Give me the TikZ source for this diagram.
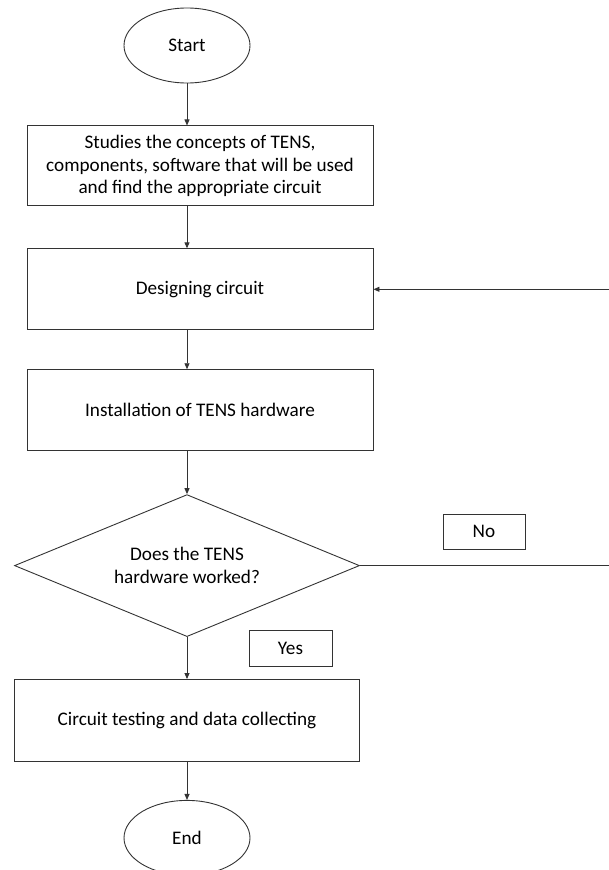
\documentclass[tikz,border=0pt]{standalone}
\usepackage{fontspec}
\setmainfont{Carlito}
\usetikzlibrary{positioning, arrows.meta, shapes.geometric}

\begin{document}
\begin{tikzpicture}[x=1pt, y=-1pt, node distance=42pt]
    \tikzset{
        every node/.style={font=\fontsize{19.2}{22.5}\selectfont},
        terminal/.style={ellipse, draw=black!80, line width=0.9pt,
                     minimum width=126pt, minimum height=75pt, inner sep=0pt},
        block/.style={rectangle, draw=black!80, line width=0.9pt, align=center,
                     minimum width=346pt, minimum height=81pt, inner sep=0pt},
        decision/.style={diamond, draw=black!80, line width=0.9pt, align=center, aspect=2.43,
                     minimum width=345pt, minimum height=142pt, inner sep=0pt},
        tag/.style={rectangle, draw=black!80, line width=0.9pt,
                     minimum width=82pt, minimum height=35pt, inner sep=0pt},
        arrow/.style={draw=black!80, line width=0.9pt, -{Triangle[length=6pt, width=5pt]}}
    }
    \useasboundingbox (0,0) rectangle (608,870);
    \node[terminal] (start) at (187,45.5) {Start};
    \node[block, below=42pt of start, xshift=13pt, minimum height=80pt] (concepts)
        {Studies the concepts of TENS,\\components, software that will be used\\and find the appropriate circuit};
    \node[block, below=of concepts] (design) {Designing circuit};
    \node[block, below=39pt of design] (install) {Installation of TENS hardware};
    \node[decision, below=43pt of install, xshift=-13pt] (decide) {Does the TENS\\hardware worked?};
    \node[block, below=of decide, minimum width=345pt, minimum height=82pt] (test)
        {Circuit testing and data collecting};
    \node[terminal, below=38pt of test] (finish) {End};
    \node[tag] (no) at (484,531.5) {No};
    \node[tag, minimum width=83pt, minimum height=36pt] (yes) at (290.5,648) {Yes};
    \coordinate (loop) at (612,0);
    \draw[arrow] (start) -- (start |- concepts.north);
    \draw[arrow] (start |- concepts.south) -- (start |- design.north);
    \draw[arrow] (start |- design.south) -- (start |- install.north);
    \draw[arrow] (start |- install.south) -- (decide.north);
    \draw[arrow] (decide.south) -- (decide.south |- test.north);
    \draw[arrow] (finish |- test.south) -- (finish);
    \draw[arrow] (decide.east) -- (decide.east -| loop) -- (design.east -| loop) -- (design.east);
\end{tikzpicture}
\end{document}
